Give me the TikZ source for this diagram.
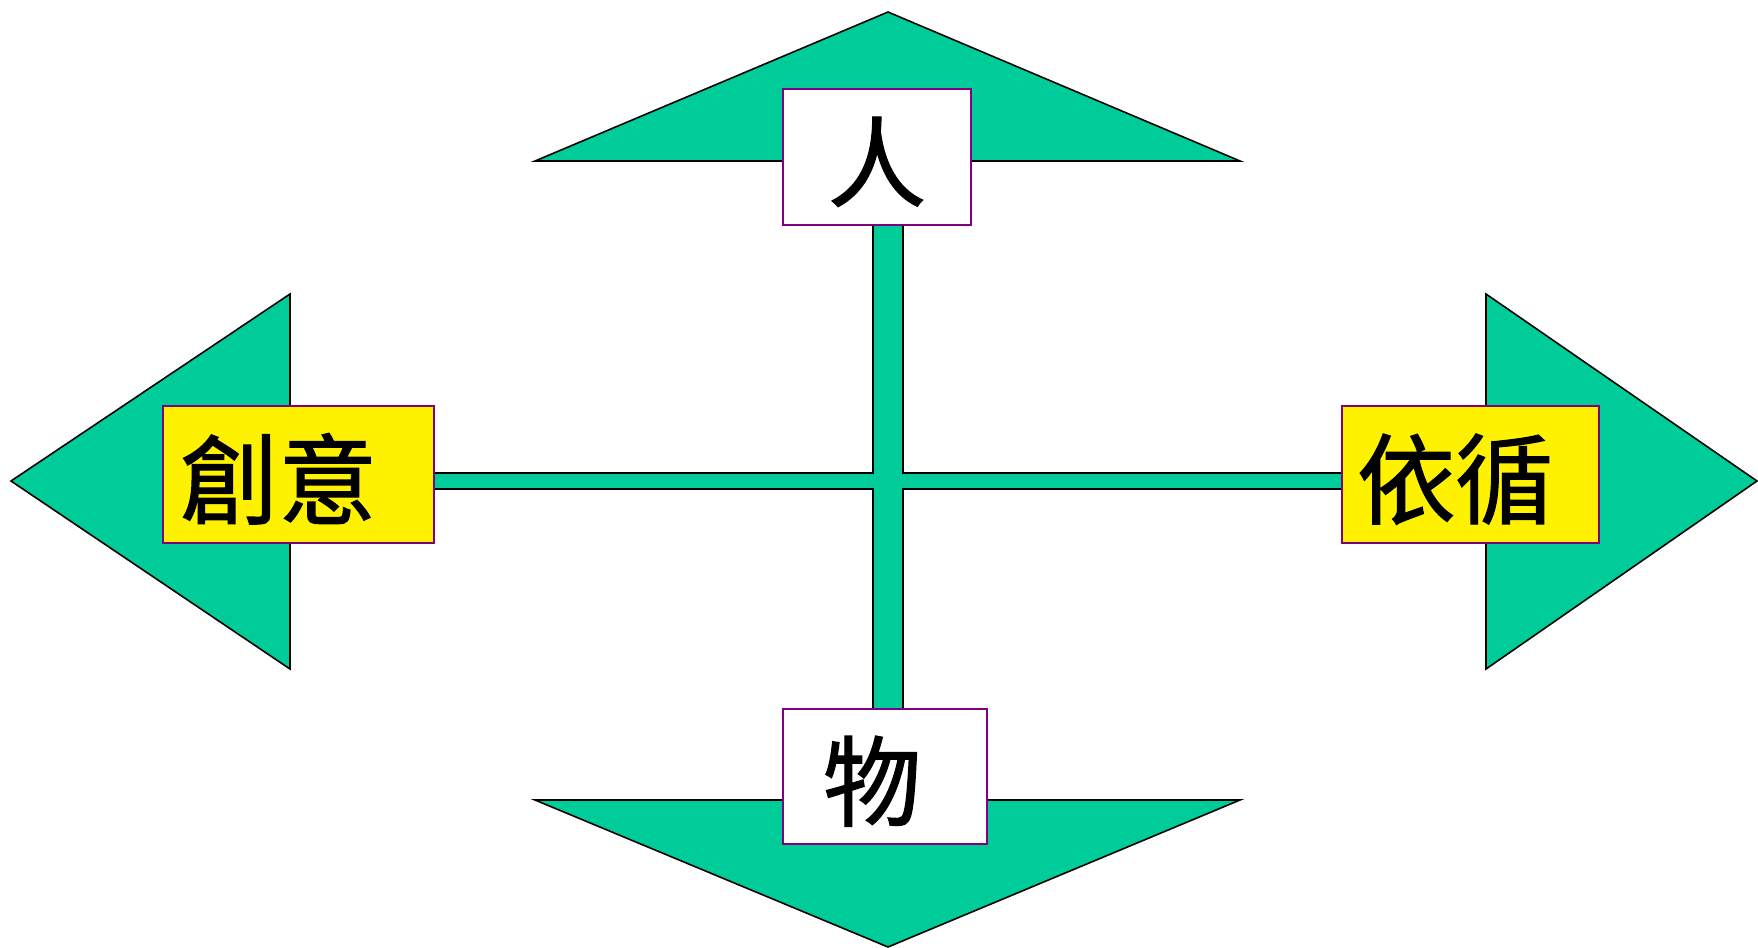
\documentclass[tikz,border=0pt]{standalone}
\usepackage{fontspec}
\newfontfamily\cjk[FakeBold=1.2]{Noto Sans CJK TC}
\usepackage{xcolor}
\usepackage{tikz}

\definecolor{sheetgreen}{RGB}{0,204,153}
\definecolor{boxpurple}{RGB}{128,0,128}

\begin{document}
\begin{tikzpicture}[x=0.02cm, y=-0.02cm,
        pointer/.style={fill=sheetgreen, draw=black, line width=0.9pt, line join=miter},
        wordbox/.style={draw=boxpurple, line width=0.9pt, inner ysep=0pt,
            text height=1.84cm, font=\cjk\fontsize{56}{60}\selectfont}]

        \useasboundingbox (0,0) rectangle (1758,947);

        %% ── Arrow heads ─────────────────────────────────────────────────
        \draw[pointer] (535,161) -- (888,12) -- (1240,161) -- cycle;
        \draw[pointer] (535,800) -- (888,947) -- (1240,800) -- cycle;
        \draw[pointer] (290,294) -- (11,481) -- (290,669) -- cycle;
        \draw[pointer] (1486,294) -- (1757,481) -- (1486,669) -- cycle;

        %% ── Cross bar ───────────────────────────────────────────────────
        \coordinate (hub) at (888,481);
        \draw[pointer]
            (873,161) -- (903,161) -- (903,473) -- (1486,473) -- (1486,489)
            -- (903,489) -- (903,800) -- (873,800) -- (873,489) -- (290,489)
            -- (290,473) -- (873,473) -- cycle;

        %% ── Word boxes ──────────────────────────────────────────────────
        \node[wordbox, fill=white, minimum width=3.76cm, minimum height=2.72cm]
            (ren) at (877,157) {人};
        \node[wordbox, fill=white, minimum height=2.7cm, inner xsep=0.8cm,
            text width=2.48cm, align=left]
            (wu) at (885,776.5) {物};
        \node[wordbox, fill=yellow, minimum height=2.74cm, inner xsep=0.34cm,
            text width=4.74cm, align=left]
            (chuangyi) at (298.5,474.5) {創意};
        \node[wordbox, fill=yellow, minimum height=2.74cm, inner xsep=0.3cm,
            text width=4.54cm, align=left]
            (yixun) at (1470.5,474.5) {依循};

    \end{tikzpicture}
\end{document}
